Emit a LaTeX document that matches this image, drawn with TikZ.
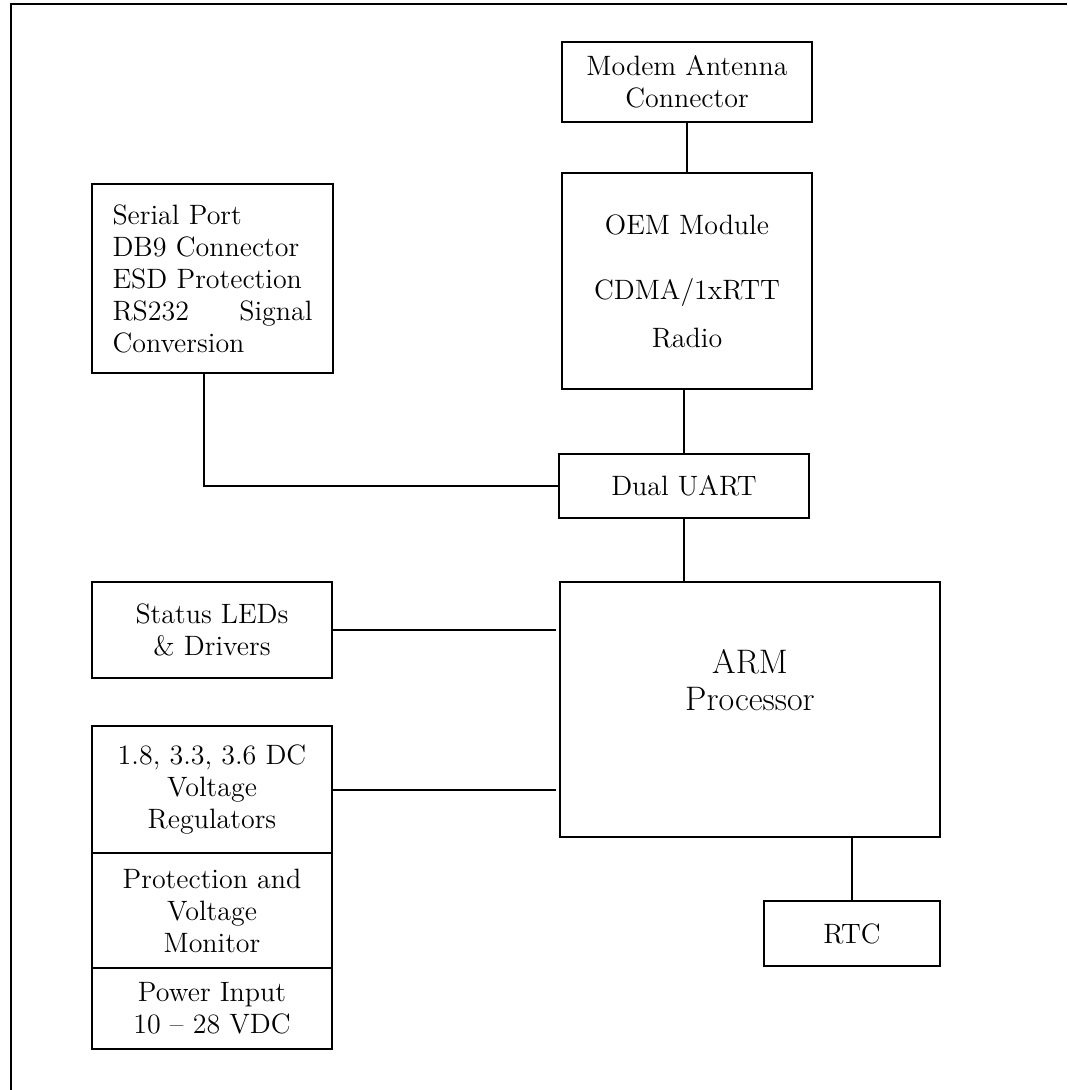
\documentclass[tikz,border=0pt]{standalone}
\usepackage{amsmath}
\usepackage{tikz}
\usetikzlibrary{shapes,calc}

\begin{document}
\begin{tikzpicture}[x=0.5pt, y=-0.5pt, line width=1pt,
                blk/.style={draw, rectangle, inner sep=0pt, align=center, font=\fontsize{14}{16}\selectfont},
                link/.style={line width=1pt}]
                \useasboundingbox (0,0) rectangle (1067,1090);
                \draw (11,1090) -- (11,4) -- (1067,4);
                \node[blk, minimum width=125pt, minimum height=40pt] (modem) at (687,82) {Modem Antenna\\Connector};
                \node[blk, minimum width=125pt, minimum height=108pt] (oem) at (687,281) {OEM Module\\[16.5pt]CDMA/1xRTT\\[8pt]Radio};
                \node[blk, minimum width=120.5pt, minimum height=94.5pt, text width=100pt, align=left] (serial) at (212.5,278.5) {Serial Port\\DB9 Connector\\ESD Protection\\RS232\hfill Signal\\Conversion};
                \node[blk, minimum width=125pt, minimum height=32pt] (uart) at (684,486) {Dual UART};
                \node[blk, minimum width=190pt, minimum height=127.5pt] (arm) at (750,709.5) {};
                \node[font=\fontsize{17}{18.5}\selectfont, align=center, inner sep=0pt] (armtxt) at (750,680) {ARM\\Processor};
                \node[blk, minimum width=120pt, minimum height=48pt] (status) at (212,630) {Status LEDs\\\& Drivers};
                \node[blk, minimum width=120pt, minimum height=63.5pt] (volt) at (212,789.5) {1.8, 3.3, 3.6 DC\\Voltage\\Regulators};
                \node[blk, minimum width=120pt, minimum height=57.5pt] (prot) at (212,910.5) {Protection and\\Voltage\\Monitor};
                \node[blk, minimum width=120pt, minimum height=40.5pt] (power) at (212,1008.5) {Power Input\\10 -- 28 VDC};
                \node[blk, minimum width=88pt, minimum height=32.5pt] (rtc) at (852,933.5) {RTC};
                \draw[link] (modem.south) -- (modem.south |- oem.north);
                \draw[link] (uart.north) -- (uart.north |- oem.south);
                \draw[link] (uart.south) -- (uart.south |- arm.north);
                \draw[link] ([xshift=-4.25pt]serial.south) |- (uart.west);
                \draw[link, shorten >=1.5pt] (status.east) -- (status.east -| arm.west);
                \draw[link, shorten >=1.5pt] (volt.east) -- (volt.east -| arm.west);
                \draw[link] (rtc.north) -- (rtc.north |- arm.south);
            \end{tikzpicture}
\end{document}
